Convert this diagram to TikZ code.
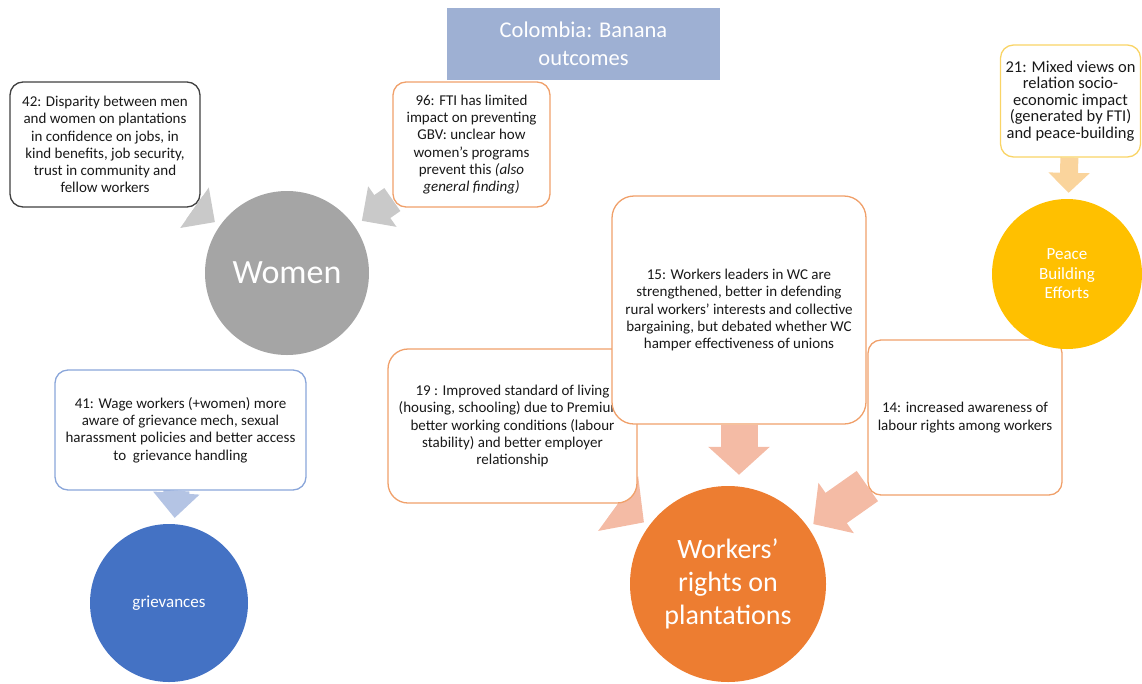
\documentclass[tikz,border=0pt]{standalone}
\usepackage{fontspec}
\setmainfont{Carlito}
\usepackage{tikz}
\usetikzlibrary{positioning}
\usetikzlibrary{shapes, arrows.meta, calc, backgrounds}

\definecolor{titleblue}{HTML}{9EB0D3}
\definecolor{womengray}{HTML}{A5A5A5}
\definecolor{grievblue}{HTML}{4472C4}
\definecolor{rightsorange}{HTML}{ED7D31}
\definecolor{peacegold}{HTML}{FFC000}
\definecolor{darkline}{HTML}{404040}
\definecolor{orangeline}{HTML}{F0A06A}
\definecolor{goldline}{HTML}{F9D466}
\definecolor{blueline}{HTML}{8AA6DA}
\definecolor{grayarrow}{HTML}{C9C9C9}
\definecolor{peacharrow}{HTML}{F4BBA5}
\definecolor{bluearrow}{HTML}{B4C4E4}
\definecolor{goldarrow}{HTML}{FAD49C}

\tikzset{
    finding/.style={draw, fill=white, line width=1.3pt, rounded corners=13pt,
        align=center, text=black!90, inner sep=3pt,
        font=\fontsize{15}{17.2}\selectfont},
    topic/.style={circle, inner sep=0pt, text=white, align=center},
    grayarr/.style={draw=grayarrow, line width=28pt,
        -{Triangle[length=25pt,width=48pt]}},
    peacharr/.style={draw=peacharrow, line width=37pt,
        -{Triangle[length=28pt,width=60pt]}},
    bluearr/.style={draw=bluearrow, line width=26pt,
        -{Triangle[length=25pt,width=45pt]}},
    goldarr/.style={draw=goldarrow, line width=18pt,
        -{Triangle[length=20pt,width=40pt]}}
}

\begin{document}
\begin{tikzpicture}[x=1pt, y=-1pt]
    \useasboundingbox (0,0) rectangle (1142,683);

    % title
    \node[fill=titleblue, minimum width=273pt, minimum height=72pt, text=white,
        align=center, font=\fontsize{22.5}{28}\selectfont] (title) at (583.5,44)
        {Colombia: Banana\\outcomes};

    % women
    \node[finding, draw=darkline, minimum width=190pt, minimum height=125pt] (n42) at (105,144.5)
        {42: Disparity between men\\and women on plantations\\in confidence on jobs, in\\kind benefits, job security,\\trust in community and\\fellow workers};
    \node[finding, draw=orangeline, minimum width=157pt, minimum height=125pt] (n96) at (471.5,144.5)
        {96: FTI has limited\\impact on preventing\\GBV: unclear how\\women’s programs\\prevent this \textit{(also}\\\textit{general finding)}};
    \node[topic, fill=womengray, minimum size=164pt, font=\fontsize{34}{40}\selectfont] (women) at (287,273) {Women};

    % grievances
    \node[finding, draw=blueline, minimum width=251pt, minimum height=120pt] (n41) at (180.5,430)
        {41: Wage workers (+women) more\\aware of grievance mech, sexual\\harassment policies and better access\\to \ grievance handling};
    \node[topic, fill=grievblue, minimum size=158pt, font=\fontsize{17}{20}\selectfont] (gr) at (169,603) {grievances};

    % workers rights
    \node[finding, draw=orangeline, rounded corners=20pt, minimum width=249pt, minimum height=154pt] (n19) at (512.5,426)
        {19 : Improved standard of living\\(housing, schooling) due to Premium,\\better working conditions (labour\\stability) and better employer\\relationship};
    \node[finding, draw=orangeline, rounded corners=22pt, minimum width=254pt, minimum height=228pt] (n15) at (739,310)
        {15: Workers leaders in WC are\\strengthened, better in defending\\rural workers’ interests and collective\\bargaining, but debated whether WC\\hamper effectiveness of unions};
    \node[finding, draw=orangeline, minimum width=194pt, minimum height=155pt] (n14) at (965,417.5)
        {14: increased awareness of\\labour rights among workers};
    \node[topic, fill=rightsorange, minimum size=196pt, font=\fontsize{28}{33}\selectfont] (wr) at (728,584)
        {Workers’\\rights on\\plantations};

    % peace building
    \node[topic, fill=peacegold, minimum size=150pt, font=\fontsize{17}{19.5}\selectfont] (peace) at (1067,274)
        {Peace\\Building\\Efforts};
    \node[finding, draw=goldline, minimum width=140pt, minimum height=112pt,
        font=\fontsize{16.5}{16.5}\selectfont] (n21) at (1070.5,101)
        {21: Mixed views on\\relation socio-\\economic impact\\(generated by FTI)\\and peace-building};

    % block arrows
    \begin{scope}[on background layer]
        \draw[grayarr, shorten >=6pt] (n42) -- (women);
        \draw[grayarr, shorten >=9pt] (n96) -- (women);
        \draw[bluearr, shorten >=6pt] (n41) -- (gr);
        \draw[peacharr, shorten >=11pt] (n15) -- (n15 |- wr.north);
        \draw[peacharr, -{Triangle[length=32pt,width=66pt]}, shorten >=6pt] (n19) -- (wr);
        \draw[peacharr, shorten >=6pt] (n14) -- (wr);
        \draw[goldarr, shorten >=6pt] (n21) -- (peace);
    \end{scope}
\end{tikzpicture}
\end{document}
